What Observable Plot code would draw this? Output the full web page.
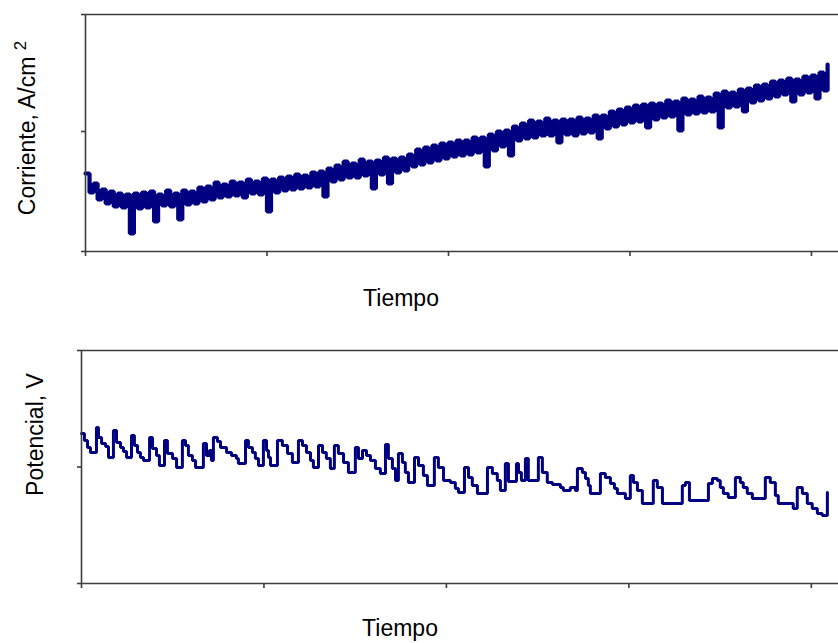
<!DOCTYPE html>
<html><head><meta charset="utf-8">
<script src="https://cdn.jsdelivr.net/npm/d3@7"></script>
<script src="https://cdn.jsdelivr.net/npm/@observablehq/plot@0.6"></script>
<style>
body{margin:0;background:#fff;}
#chart{width:838px;height:643px;position:relative;overflow:hidden;font-family:"Liberation Sans",Arial,sans-serif;}
#chart svg{display:block;}
</style></head><body><div id="chart"></div>
<script>
// Tick positions (time axis shared by both panels, arbitrary units)
const tiempoTicks = [0, 100, 200, 300, 400];
const corrienteTicks = [0, 120, 237];
const potencialTicks = [0, 116.5, 233];
const pasoCorriente = 100 / 45; // sampling interval of the current record

// Current record (arbitrary units)
const corriente = [
  78,59,68,52,62,48,60,45,58,44, 57,18,58,43,59,44,60,30,57,46,
  61,45,58,32,61,47,60,48,64,50, 65,52,69,54,67,55,70,56,69,54,
  72,58,70,57,73,40,72,59,74,61, 75,62,77,63,76,64,79,65,80,55,
  83,70,86,72,90,74,88,74,92,76, 90,63,91,77,94,68,93,79,94,81,
  97,85,102,87,104,89,106,91,108,93, 109,95,111,96,111,97,114,99,114,85,
  117,101,120,105,121,96,125,111,128,113, 131,114,130,116,133,116,131,109,132,117,
  132,116,134,118,133,119,136,113,136,123, 140,125,142,127,144,129,146,130,147,124,
  148,132,148,134,151,135,150,121,153,137, 152,138,155,139,154,140,158,124,160,144,
  159,145,162,140,163,149,166,151,167,153, 170,155,171,157,173,150,172,157,175,159,
  176,153,179,161,187
];

// Potential record: time of each step and value (arbitrary units)
const tiempoPotencial = [
  0,1.6,3.3,4.9,8.2,9.3,11.0,13.2,14.8,17.5,
  19.2,21.4,23.0,24.7,27.4,29.0,30.7,32.3,34.0,37.3,
  38.9,41.1,42.7,45.5,47.1,49.9,52.1,55.3,57.0,58.6,
  60.8,62.5,66.8,68.5,70.1,71.2,72.3,74.5,76.2,79.5,
  82.2,84.9,86.0,89.9,91.5,93.7,95.3,97.0,99.7,101.4,
  102.5,103.6,107.4,110.1,112.9,115.6,118.9,121.1,123.3,125.5,
  127.1,129.9,132.1,134.2,136.4,138.6,140.8,143.6,146.3,150.1,
  151.8,154.0,156.2,158.4,161.1,163.8,166.6,168.2,170.4,172.1,
  173.7,175.9,177.5,179.2,182.5,184.7,187.4,189.6,193.4,195.6,
  198.4,202.2,204.9,206.6,209.9,212.1,214.2,217.0,222.5,225.2,
  227.9,229.6,232.3,234.0,238.4,239.5,241.1,243.3,244.9,250.4,
  252.6,255.3,258.1,262.5,264.1,267.9,270.7,271.8,274.5,276.2,
  277.8,278.9,284.4,287.1,289.9,292.1,293.7,298.1,300.8,302.5,
  304.7,307.4,313.4,315.6,318.4,329.3,331.0,333.2,343.6,345.8,
  348.5,350.1,351.8,354.5,358.4,361.1,362.7,364.9,367.7,374.8,
  377.5,380.3,381.9,390.1,392.3,395.1,397.8,400.5,403.3,406.0,
  408.8
];
const potencial = [
  150,143,136,131,156,146,140,137,126,153,
  141,136,132,126,148,138,131,126,123,146,
  135,128,118,143,130,125,116,143,138,128,
  123,116,140,128,133,123,146,142,136,131,
  128,125,120,143,136,131,125,118,143,133,
  126,118,143,138,130,121,143,138,131,123,
  116,138,131,125,115,138,130,121,111,136,
  125,133,128,123,115,110,139,125,115,103,
  130,121,111,101,126,118,108,98,126,116,
  103,101,95,91,116,106,98,90,116,110,
  103,93,120,102,120,111,103,125,103,126,
  111,101,99,96,93,96,93,115,111,105,
  98,90,110,106,100,95,90,85,108,101,
  93,80,103,96,80,98,101,83,100,105,
  103,96,90,86,106,101,96,90,85,106,
  101,88,80,75,96,90,80,75,70,68,
  91
];

const etiquetaX = "Tiempo";
const etiquetaCorriente = "Corriente, A/cm";
const superindice = "2";
const etiquetaPotencial = "Potencial, V";

const serieCorriente = corriente.map((v, i) => ({t: i * pasoCorriente, v}));
const seriePotencial = tiempoPotencial.map((t, i) => ({t, v: potencial[i]}));

const ink = "#3c3c3c";
const navy = "#000080";
const fontFamily = '"Liberation Sans", Arial, sans-serif';
const fontSize = 23;

function panel({data, height, marginTop, marginBottom, marginLeft, yDomain, yTicks, strokeWidth}) {
  return Plot.plot({
    width: 838, height, marginTop, marginBottom, marginLeft, marginRight: 0,
    style: {background: "white", fontFamily, overflow: "visible"},
    x: {domain: [0, 414.9], axis: null},
    y: {domain: yDomain, axis: null},
    marks: [
      Plot.line(data, {x: "t", y: "v", curve: "step-after", stroke: navy, strokeWidth, strokeLinejoin: "miter"}),
      Plot.ruleY([yDomain[1]], {stroke: ink, strokeWidth: 1.6}),
      Plot.ruleY([0], {stroke: ink, strokeWidth: 1.6}),
      Plot.ruleX([0], {stroke: ink, strokeWidth: 1.6}),
      Plot.axisX({ticks: tiempoTicks, tickSize: 5, fill: "none", stroke: ink, strokeWidth: 1.6, label: null}),
      Plot.axisY({ticks: yTicks, tickSize: 4, fill: "none", stroke: ink, strokeWidth: 1.6, label: null})
    ]
  });
}

const svgCorriente = panel({data: serieCorriente, height: 330, marginTop: 14, marginBottom: 79, marginLeft: 85,
  yDomain: [0, 237], yTicks: corrienteTicks, strokeWidth: 4.2});
const svgPotencial = panel({data: seriePotencial, height: 313, marginTop: 20, marginBottom: 60, marginLeft: 81,
  yDomain: [0, 233], yTicks: potencialTicks, strokeWidth: 3});

const chart = document.getElementById("chart");
chart.appendChild(svgCorriente);
chart.appendChild(svgPotencial);

function label(svg, x, y, rotate, parts) {
  const t = d3.select(svg).append("text")
    .attr("transform", `translate(${x},${y})` + (rotate ? ` rotate(${rotate})` : ""))
    .attr("text-anchor", "middle")
    .attr("fill", "#000")
    .style("font-family", fontFamily)
    .style("font-size", fontSize + "px");
  parts.forEach(p => {
    const s = t.append("tspan").text(p.text);
    if (p.dy) s.attr("dy", p.dy);
    if (p.size) s.style("font-size", p.size);
  });
}

label(svgCorriente, 401, 306, 0, [{text: etiquetaX}]);
label(svgCorriente, 35, 128, -90, [{text: etiquetaCorriente + " "}, {text: superindice, dy: -9, size: "17px"}]);
label(svgPotencial, 400, 306, 0, [{text: etiquetaX}]);
label(svgPotencial, 43, 104.5, -90, [{text: etiquetaPotencial}]);
</script></body></html>
